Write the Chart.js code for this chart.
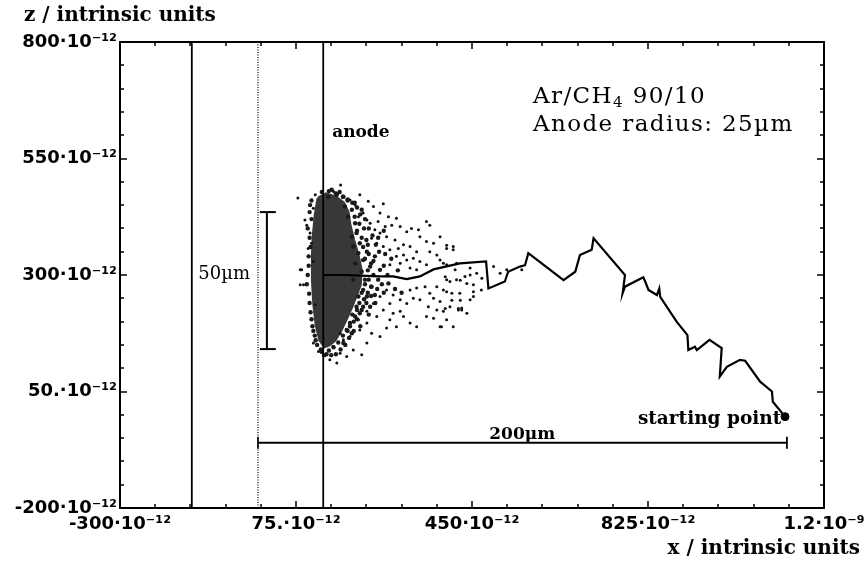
<!DOCTYPE html>
<html>
<head>
<meta charset="utf-8">
<script src="https://cdn.jsdelivr.net/npm/chart.js@4.4.0/dist/chart.umd.min.js"></script>
<style>
  body { margin: 0; background: #fff; }
  #wrap { width: 864px; height: 563px; }
</style>
</head>
<body>
<div id="wrap"><canvas id="myChart"></canvas></div>
<script>
// all values in units of 1e-12 (intrinsic units)
var xTicks = [-300, 75, 450, 825, 1200];
var xTickLabels = ['-300\u00b710\u207b\u00b9\u00b2', '75.\u00b710\u207b\u00b9\u00b2', '450\u00b710\u207b\u00b9\u00b2', '825\u00b710\u207b\u00b9\u00b2', '1.2\u00b710\u207b\u2079'];
var yTicks = [-200, 50, 300, 550, 800];
var yTickLabels = ['-200\u00b710\u207b\u00b9\u00b2', '50.\u00b710\u207b\u00b9\u00b2', '300\u00b710\u207b\u00b9\u00b2', '550\u00b710\u207b\u00b9\u00b2', '800\u00b710\u207b\u00b9\u00b2'];

// vertical lines
var wallX = -147;
var cathodeX = -6;
var anodeX = 133;

// electron track, starting point first
var trackX = [1117, 1091, 1089, 1064, 1032, 1021, 993, 978, 982, 956, 929, 925, 911, 909, 886, 851, 849, 844, 826, 819, 815, 776, 771, 776, 709, 705, 680, 670, 645, 570, 563, 552, 527, 520, 485, 480, 424, 368, 339, 311, 282, 254, 226, 180, 133];
var trackZ = [-4, 28, 50, 71, 116, 118, 103, 82, 143, 161, 139, 146, 139, 171, 200, 253, 271, 257, 268, 286, 295, 275, 261, 300, 379, 354, 343, 307, 289, 347, 321, 318, 307, 286, 271, 329, 325, 312, 297, 291, 297, 297, 298, 300, 300];

// outline of the dense avalanche core around the anode
var coreX = [122, 139, 160, 176, 186, 190, 198, 207, 214, 212, 203, 194, 182, 170, 158, 146, 136, 126, 118, 113, 110, 110, 112, 116, 122];
var coreZ = [465, 474, 467, 455, 435, 407, 375, 343, 311, 279, 255, 232, 205, 180, 160, 150, 146, 160, 193, 236, 289, 343, 386, 429, 465];

// dense fringe of the avalanche
var fringeX = [194, 201, 204, 211, 208, 218, 226, 233, 215, 222, 236, 218, 208, 226, 204, 218, 201, 211, 190, 194, 183, 176, 197, 201, 197, 194, 186, 179, 176, 162, 151, 144, 243, 254, 250, 243, 233,
  222, 230, 238, 245, 252, 228, 240, 262, 270, 258, 248, 235, 225, 215, 205, 212, 198, 188, 180, 170, 160, 230, 244, 262, 272, 286, 300, 292, 278, 265, 250, 262, 215, 200, 185, 168,
  105, 108, 104, 102, 100, 103, 106, 110, 115, 120, 130, 140,
  195, 205, 212, 200, 210, 220, 205, 215, 225, 218, 230, 222, 235, 228, 240, 230, 222, 235, 228, 215, 220, 210, 205, 195, 198, 190, 185, 175, 165, 155, 145, 150, 135, 128,
  108, 104, 100, 106, 102, 98, 104, 108, 112, 117, 130, 145, 160, 175, 185];
var fringeZ = [440, 411, 390, 368, 347, 332, 350, 318, 307, 290, 275, 268, 254, 254, 232, 232, 211, 218, 197, 175, 182, 154, 290, 325, 361, 382, 425, 447, 468, 472, 483, 468, 340, 311, 290, 257, 232,
  420, 400, 385, 365, 350, 365, 330, 320, 300, 280, 270, 255, 240, 225, 205, 190, 180, 165, 150, 140, 130, 215, 240, 262, 282, 270, 262, 310, 335, 345, 380, 395, 440, 455, 462, 478,
  450, 420, 380, 340, 300, 260, 220, 190, 170, 150, 135, 130,
  455, 445, 430, 425, 410, 400, 395, 380, 375, 360, 345, 335, 325, 310, 300, 290, 280, 275, 262, 262, 248, 240, 225, 215, 200, 190, 180, 170, 155, 145, 138, 128, 128, 140,
  460, 435, 400, 360, 320, 280, 240, 205, 180, 160, 478, 480, 475, 468, 460];

// scattered avalanche electrons
var dotX = [170, 155, 211, 229, 261, 190, 201, 240, 254, 272, 289, 279, 297, 311, 321, 336, 353, 360, 339, 353, 368, 382, 396, 410, 375, 360, 332, 318, 304, 293, 286, 268, 254, 243, 233, 226, 218, 208,
  116, 112, 94, 98, 105, 108, 101, 112, 87, 91, 116, 112, 123, 147, 84, 84, 79,
  382, 396, 417, 446, 460, 435, 417, 396, 375, 389, 407, 424, 439, 453, 446, 428, 403, 389, 375, 357, 339, 325, 311, 297, 318, 332, 350, 360, 368, 382, 396, 382, 368, 353, 332, 318, 304, 297, 282, 275, 268, 289, 254, 236, 226, 215, 197, 183, 169, 162, 154, 176, 190, 211, 226, 247, 261, 275, 282, 268, 254, 240, 226, 208, 190, 169, 410, 421, 439, 453, 470,
  275, 297, 311, 325, 339, 353, 332, 318, 304, 289, 275, 261, 247, 236, 265, 250,
  396, 410, 389, 414, 393, 403, 425, 446, 471, 496, 510, 453, 425, 396, 407, 421, 428, 393, 385, 524, 556];
var dotZ = [493, 479, 472, 458, 453, 461, 450, 447, 433, 425, 422, 407, 404, 393, 400, 397, 415, 407, 382, 372, 368, 382, 357, 354, 343, 350, 350, 361, 365, 357, 375, 382, 390, 397, 411, 418, 433, 425,
  472, 443, 418, 407, 390, 368, 357, 329, 311, 279, 236, 154, 136, 118, 311, 279, 465,
  332, 322, 325, 315, 304, 297, 290, 290, 275, 268, 261, 261, 282, 279, 247, 229, 232, 222, 225, 232, 247, 250, 239, 247, 268, 272, 275, 261, 250, 243, 204, 189, 207, 211, 189, 197, 211, 222, 218, 204, 186, 189, 168, 175, 154, 129, 139, 125, 132, 111, 147, 161, 168, 182, 197, 211, 225, 239, 257, 268, 254, 239, 222, 204, 189, 175, 189, 225, 218, 254, 268,
  322, 325, 332, 336, 329, 322, 311, 315, 343, 340, 354, 361, 368, 379, 404, 415,
  364, 361, 325, 311, 296, 286, 289, 300, 293, 318, 304, 264, 246, 264, 246, 228, 225, 228, 189, 311, 311];

// scale bars
var bar50X = 13, bar50Z = [141, 435], bar50Cap = [-2, 32];
var bar200X = [cathodeX, 1121], bar200Z = -60, bar200Cap = [-47, -73];

function pts(xs, zs) {
  return xs.map(function (x, i) { return { x: x, y: zs[i] }; });
}
function vline(x, y0, y1) { return [{ x: x, y: y0 }, { x: x, y: y1 }]; }
function hline(x0, x1, y) { return [{ x: x0, y: y }, { x: x1, y: y }]; }

function lineSet(data, width, dash, color) {
  return {
    data: data, showLine: true, borderColor: color || '#000', borderWidth: width,
    borderDash: dash || [], pointRadius: 0, fill: false
  };
}

var datasets = [
  lineSet(pts(trackX, trackZ), 2.2),
  { data: [{ x: trackX[0], y: trackZ[0] }], pointRadius: 4, backgroundColor: '#000', borderColor: '#000' },
  lineSet(vline(wallX, -200, 800), 1.8),
  lineSet(vline(cathodeX, -200, 800), 1.5, [1, 1.5], '#333'),
  lineSet(vline(anodeX, -200, 800), 1.8),
  lineSet(vline(bar50X, bar50Z[0], bar50Z[1]), 2),
  lineSet(hline(bar50Cap[0], bar50Cap[1], bar50Z[0]), 2),
  lineSet(hline(bar50Cap[0], bar50Cap[1], bar50Z[1]), 2),
  lineSet(hline(bar200X[0], bar200X[1], bar200Z), 1.8),
  lineSet(vline(bar200X[0], bar200Cap[0], bar200Cap[1]), 1.8),
  lineSet(vline(bar200X[1], bar200Cap[0], bar200Cap[1]), 1.8),
  { data: pts(fringeX, fringeZ), pointRadius: 2.2, borderWidth: 0, backgroundColor: '#1a1a1a' },
  { data: pts(dotX, dotZ), pointRadius: 1.5, borderWidth: 0, backgroundColor: '#111' },
  {
    data: pts(coreX, coreZ), showLine: true, tension: 0, fill: 'shape',
    borderColor: '#383838', backgroundColor: '#383838', borderWidth: 3, pointRadius: 0
  }
];

var serifBold = 'bold 17px "DejaVu Serif"';
var titleFont = 'bold 20px "DejaVu Serif"';

var decor = {
  id: 'decor',
  afterDraw: function (chart) {
    var ctx = chart.ctx, a = chart.chartArea;
    var xs = chart.scales.x, ys = chart.scales.y;
    ctx.save();
    ctx.strokeStyle = '#000';
    ctx.lineWidth = 2;
    ctx.strokeRect(a.left, a.top, a.right - a.left, a.bottom - a.top);

    // inward tick marks on all four sides
    ctx.lineWidth = 1.5;
    ctx.beginPath();
    for (var v = xs.min; v <= xs.max + 1; v += 75) {
      var px = Math.round(xs.getPixelForValue(v));
      var len = xTicks.indexOf(v) >= 0 ? 7 : 4;
      ctx.moveTo(px, a.bottom); ctx.lineTo(px, a.bottom - len);
      ctx.moveTo(px, a.top); ctx.lineTo(px, a.top + len);
    }
    for (var w = ys.min; w <= ys.max + 1; w += 50) {
      var py = Math.round(ys.getPixelForValue(w));
      var l2 = yTicks.indexOf(w) >= 0 ? 7 : 4;
      ctx.moveTo(a.left, py); ctx.lineTo(a.left + l2, py);
      ctx.moveTo(a.right, py); ctx.lineTo(a.right - l2, py);
    }
    ctx.stroke();

    ctx.fillStyle = '#000';
    ctx.textBaseline = 'middle';
    function txt(s, x, y, font, align) {
      ctx.font = font;
      ctx.textAlign = align || 'left';
      ctx.fillText(s, xs.getPixelForValue(x), ys.getPixelForValue(y));
    }

    // axis titles
    ctx.font = titleFont;
    ctx.textAlign = 'left';
    ctx.fillText('z / intrinsic units', 24, 16);
    ctx.textAlign = 'right';
    ctx.fillText('x / intrinsic units', 860, 549);

    txt('anode', 152, 605, serifBold);
    txt('50\u00b5m', -78, 302, '18px "DejaVu Serif"', 'center');
    txt('200\u00b5m', 557, -43, serifBold, 'center');
    txt('starting point', 1109, -10, 'bold 18.5px "DejaVu Serif"', 'right');

    // gas label
    var gx = xs.getPixelForValue(580), gy = ys.getPixelForValue(682);
    ctx.letterSpacing = '1.4px';
    ctx.textAlign = 'left';
    ctx.font = '23px "DejaVu Serif"';
    ctx.fillText('Ar/CH', gx, gy);
    var w1 = ctx.measureText('Ar/CH').width;
    ctx.font = '15px "DejaVu Serif"';
    ctx.fillText('4', gx + w1, gy + 6);
    var w2 = ctx.measureText('4').width;
    ctx.font = '23px "DejaVu Serif"';
    ctx.fillText(' 90/10', gx + w1 + w2, gy);
    txt('Anode radius: 25\u00b5m', 580, 622, '23px "DejaVu Serif"');
    ctx.restore();
  }
};

var ctx = document.getElementById('myChart').getContext('2d');
var chart = new Chart(ctx, {
  type: 'scatter',
  data: { datasets: datasets },
  options: {
    responsive: true,
    maintainAspectRatio: false,
    animation: false,
    layout: { padding: { left: 0, top: 42, right: 40, bottom: 0 } },
    plugins: { legend: { display: false }, tooltip: { enabled: false } },
    scales: {
      x: {
        type: 'linear', min: -300, max: 1200,
        grid: { display: false, drawTicks: false },
        border: { display: false },
        ticks: {
          stepSize: 375, padding: 6, color: '#000', maxRotation: 0,
          font: { family: 'DejaVu Sans', weight: 'bold', size: 18 },
          callback: function (v) { var i = xTicks.indexOf(v); return i >= 0 ? xTickLabels[i] : ''; }
        },
        afterFit: function (s) { s.height = 55; s.paddingLeft = 0; s.paddingRight = 0; }
      },
      y: {
        type: 'linear', min: -200, max: 800,
        grid: { display: false, drawTicks: false },
        border: { display: false },
        ticks: {
          stepSize: 250, padding: 3, color: '#000',
          font: { family: 'DejaVu Sans', weight: 'bold', size: 18 },
          callback: function (v) { var i = yTicks.indexOf(v); return i >= 0 ? yTickLabels[i] : ''; }
        },
        afterFit: function (s) { s.width = 120; s.paddingTop = 0; s.paddingBottom = 0; }
      }
    }
  },
  plugins: [decor]
});
</script>
</body>
</html>
